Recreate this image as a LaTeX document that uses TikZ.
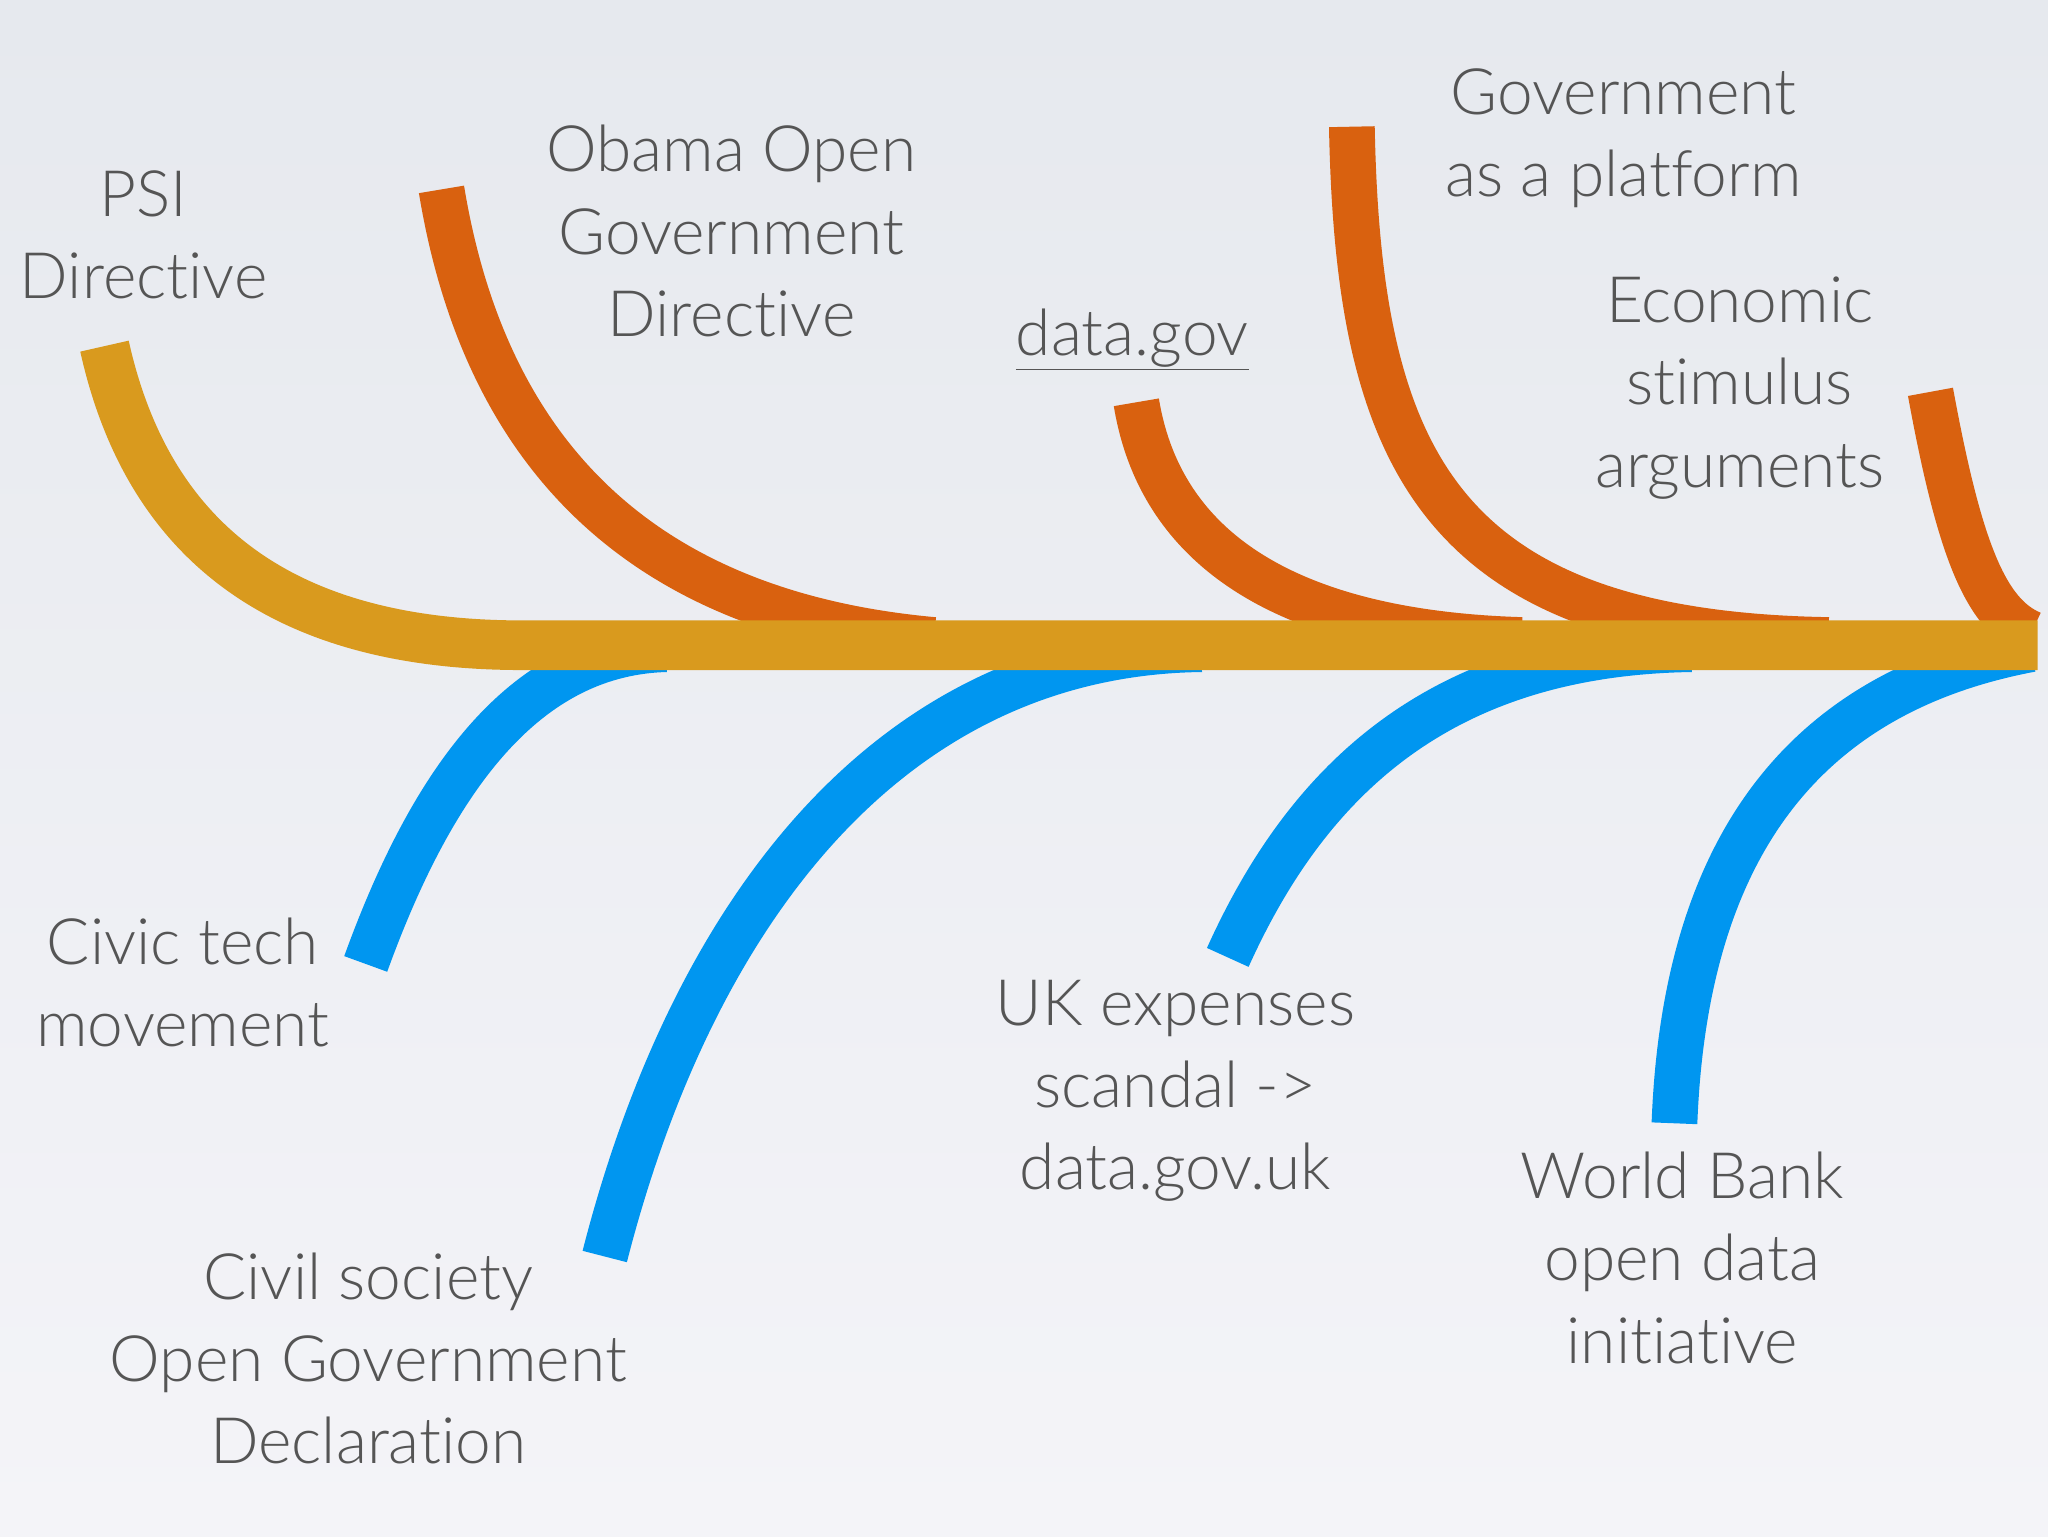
\documentclass[tikz,border=0pt]{standalone}
\usepackage{fontspec}
\setmainfont[RawFeature={-liga;-dlig;-calt}]{Lato Light}
\definecolor{bar}{HTML}{D99A1E}
\definecolor{org}{HTML}{D9610F}
\definecolor{blu}{HTML}{0096F0}
\definecolor{txt}{HTML}{555555}
\definecolor{bgA}{HTML}{E6E9EE}
\definecolor{bgB}{HTML}{F4F4F8}
\begin{document}
\begin{tikzpicture}[x=1pt,y=-1pt,
  lbl/.style={text=txt,font=\fontsize{49}{63}\selectfont,align=center,inner sep=0pt},
  bone/.style={line width=35pt}]
\shade[top color=bgA,bottom color=bgB] (0,0) rectangle (1568,1176);
\useasboundingbox (0,0) rectangle (1568,1176);
\coordinate (s1) at (280,738); \coordinate (e1) at (510,497);
\coordinate (s2) at (463,962); \coordinate (e2) at (920,497);
\coordinate (s3) at (940,733); \coordinate (e3) at (1295,497);
\coordinate (s4) at (1282,860); \coordinate (e4) at (1555,497);
\draw[bone,blu] (s1) .. controls (330,600) and (400,500) .. (e1);
\draw[bone,blu] (s2) .. controls (530,700) and (680,500) .. (e2);
\draw[bone,blu] (s3) .. controls (1000,600) and (1100,500) .. (e3);
\draw[bone,blu] (s4) .. controls (1290,650) and (1380,530) .. (e4);
\coordinate (o1) at (338,145); \coordinate (f1) at (715,490);
\coordinate (o2) at (870,308); \coordinate (f2) at (1165,490);
\coordinate (o3) at (1035,97); \coordinate (f3) at (1400,490);
\coordinate (o4) at (1478,300); \coordinate (f4) at (1555,485);
\draw[bone,org] (o1) .. controls (380,400) and (550,475) .. (f1);
\draw[bone,org] (o2) .. controls (890,430) and (1000,485) .. (f2);
\draw[bone,org] (o3) .. controls (1040,350) and (1100,485) .. (f3);
\draw[bone,org] (o4) .. controls (1500,420) and (1520,470) .. (f4);
\coordinate (p0) at (80,265); \coordinate (p1) at (400,494); \coordinate (p2) at (1560,494);
\draw[line width=38pt,bar] (p0) .. controls (110,400) and (200,494) .. (p1) -- (p2);
\node[lbl] (psi) at (110,180) {PSI\\Directive};
\node[lbl] (obama) at (560,177) {Obama Open\\Government\\Directive};
\node[lbl] (dg) at (867,260) {\underline{data.gov}};
\node[lbl] (gp) at (1243,106) {Government\\as a platform};
\node[lbl] (ec) at (1332,297) {Economic\\stimulus\\arguments};
\node[lbl] (ct) at (140,752) {Civic tech\\movement};
\node[lbl] (cs) at (282,1040) {Civil society\\Open Government\\Declaration};
\node[lbl] (uk) at (900,835) {UK expenses\\scandal ->\\data.gov.uk};
\node[lbl] (wb) at (1288,963) {World Bank\\open data\\initiative};
\end{tikzpicture}
\end{document}
